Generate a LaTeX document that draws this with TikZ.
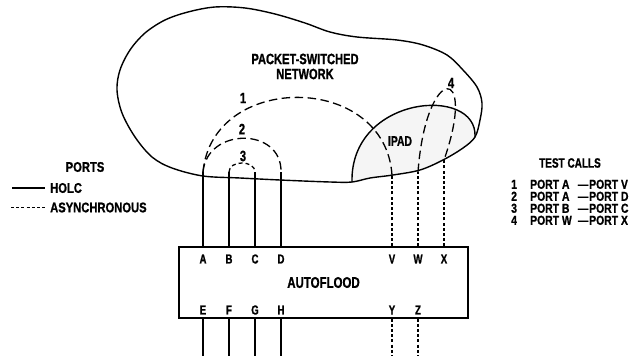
\documentclass[tikz,border=0pt]{standalone}
\usepackage{fontspec}
\setmainfont{Liberation Sans}[FakeStretch=0.74, FakeBold=1]
\newfontfamily\legfam{Liberation Sans}[FakeStretch=0.8, FakeBold=1]
\newfontfamily\rowfam{Liberation Sans}[FakeStretch=0.8, FakeBold=1]
\newcommand\myfs[1]{\fontsize{#1}{#1}\selectfont\bfseries}
\begin{document}
\begin{tikzpicture}[x=1pt,y=-1pt,
  hdlc/.style={line width=1.2pt},
  async/.style={line width=1.2pt, dash pattern=on 3pt off 2.2pt},
  route/.style={line width=1.3pt, dash pattern=on 8.5pt off 4.5pt},
  routesmall/.style={line width=1.3pt, dash pattern=on 4pt off 3pt},
  outline/.style={line width=1.4pt},
  portlbl/.style={inner sep=0pt, font=\myfs{13}},
  numlbl/.style={inner sep=0pt, font=\myfs{15}},
  legtxt/.style={inner sep=0pt, font=\legfam\myfs{14}},
  rowtxt/.style={inner sep=0pt, anchor=west, text height=9.5pt, text depth=0pt, font=\rowfam\myfs{13}}]
\useasboundingbox (0,0) rectangle (631,356);
% IPAD region fill
\fill[black!4] (352,182) .. controls (350,95) and (478,85) .. (475,137)
   -- (463,148) -- (443,160) -- (420,170) -- (393,175) -- (370,178) -- cycle;
% cloud
\draw[outline] plot[smooth cycle, tension=0.55] coordinates {
  (203,176) (172,168) (152,157) (135,137) (122,113) (117,90) (120,70) (130,50)
  (145,33) (165,20) (188,12) (215,7) (245,8) (275,14) (305,23) (330,32) (357,37)
  (397,40) (423,45) (447,55) (463,70) (477,87) (482,103) (480,120) (475,137)
  (463,148) (443,160) (420,170) (393,175) (370,178) (352,182) (330,182) (280,180)
  (240,178)};
% IPAD dome
\draw[outline] (352,182) .. controls (350,95) and (478,85) .. (475,137);
\node[inner sep=0pt, font=\myfs{14}] (ipad) at (400,141) {IPAD};
\node[inner sep=0pt, align=center, font=\myfs{15}] (net) at (305,66.5) {PACKET-SWITCHED\\[0pt]NETWORK};
% box
\node[draw, line width=1.2pt, minimum width=289pt, minimum height=71pt, inner sep=0pt,
  font=\myfs{15.5}] (box) at (323.5,282.5) {AUTOFLOOD};
% port labels
\foreach \n/\x in {A/203,B/229,C/255,D/281,V/392,W/418,X/444}
  \node[portlbl] (p\n) at (\x,259) {\n};
\foreach \n/\x in {E/203,F/229,G/255,H/281,Y/392,Z/418}
  \node[portlbl] (p\n) at (\x,310) {\n};
% cloud entry points
\coordinate (cA) at (203,172);
\coordinate (cB) at (229,172);
\coordinate (cC) at (255,172);
\coordinate (cD) at (281,172);
\coordinate (cV) at (392,175);
\coordinate (cW) at (418,172);
\coordinate (cX) at (444,160);
% ports up
\foreach \n in {A,B,C,D}
  \draw[hdlc] (box.north -| p\n) -- (c\n);
\foreach \n in {V,W,X}
  \draw[async] (box.north -| p\n) -- (c\n);
% ports down
\foreach \n in {E,F,G,H} {
  \coordinate (b\n) at (p\n |- 0,356);
  \draw[hdlc] (box.south -| p\n) -- (b\n);
}
\foreach \n in {Y,Z} {
  \coordinate (b\n) at (p\n |- 0,356);
  \draw[async] (box.south -| p\n) -- (b\n);
}
% test call routes
\draw[route] (cA) .. controls (212,72) and (385,72) .. (cV);
\draw[route] (cA) .. controls (207,127) and (282,127) .. (cD);
\draw[routesmall] (cB) .. controls (229,160) and (255,160) .. (cC);
\draw[route] (cW) .. controls (426,63) and (478,63) .. (cX);
\node[numlbl] (n1) at (243,98) {1};
\node[numlbl] (n2) at (242,129) {2};
\node[numlbl] (n3) at (243,156) {3};
\node[numlbl] (n4) at (451,83) {4};
% legend: ports
\node[legtxt] (ports) at (85,167) {PORTS};
\coordinate (ls1) at (12,188);
\coordinate (ls2) at (45,188);
\draw[hdlc] (ls1) -- (ls2);
\node[legtxt, anchor=west] (holc) at (50,188) {HOLC};
\coordinate (ld1) at (11,207.5);
\coordinate (ld2) at (45,207.5);
\draw[async] (ld1) -- (ld2);
\node[legtxt, anchor=west] (asyn) at (50,207.5) {ASYNCHRONOUS};
% legend: test calls
\node[inner sep=0pt, font=\myfs{13.5}] (tc) at (570,163) {TEST CALLS};
\node[rowtxt] (r1) at (511,184) {\makebox[19pt][l]{1}\makebox[47pt][l]{PORT A}\makebox[12pt][c]{—}PORT V};
\node[rowtxt] (r2) at (511,196) {\makebox[19pt][l]{2}\makebox[47pt][l]{PORT A}\makebox[12pt][c]{—}PORT D};
\node[rowtxt] (r3) at (511,208) {\makebox[19pt][l]{3}\makebox[47pt][l]{PORT B}\makebox[12pt][c]{—}PORT C};
\node[rowtxt] (r4) at (511,220) {\makebox[19pt][l]{4}\makebox[47pt][l]{PORT W}\makebox[12pt][c]{—}PORT X};
\end{tikzpicture}
\end{document}
